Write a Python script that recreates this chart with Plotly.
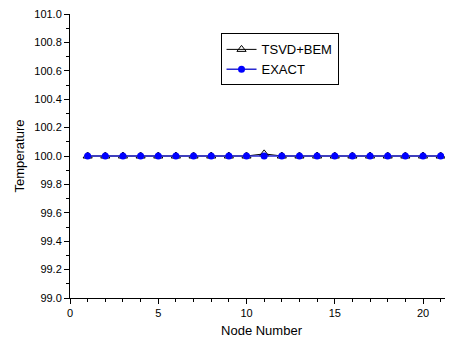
import plotly.graph_objects as go

nodes = list(range(1, 22))
tsvd_bem = [100.0]*10 + [100.015] + [100.0]*10
exact = [100.0]*21

fig = go.Figure()
fig.add_trace(go.Scatter(x=nodes, y=tsvd_bem, name="TSVD+BEM", mode="lines+markers",
                         line=dict(color="black", width=1),
                         marker=dict(symbol="triangle-up-open", size=8, color="black", line=dict(width=1))))
fig.add_trace(go.Scatter(x=nodes, y=exact, name="EXACT", mode="lines+markers",
                         line=dict(color="#2a2ad0", width=1.5),
                         marker=dict(symbol="circle", size=7, color="#0000ff")))

fig.update_layout(
    width=445, height=337,
    margin=dict(l=62, r=0, t=4, b=47),
    paper_bgcolor="white", plot_bgcolor="white",
    font=dict(family="Liberation Sans, Arial, sans-serif", size=11, color="black"),
    legend=dict(x=0.393, y=0.84, xanchor="left", yanchor="middle",
                bordercolor="black", borderwidth=1, bgcolor="white",
                font=dict(size=13), tracegroupgap=0, itemwidth=30),
    xaxis=dict(range=[0, 21.7], showline=True, linecolor="black", linewidth=1,
               ticks="outside", ticklen=5, tickcolor="black", dtick=5, tick0=0,
               ticklabeloverflow="allow",
               minor=dict(dtick=1, ticks="outside", ticklen=3, tickcolor="black"),
               showgrid=False, zeroline=False,
               title=dict(text="Node Number", font=dict(size=13), standoff=7)),
    yaxis=dict(range=[99.0, 101.0], showline=True, linecolor="black", linewidth=1,
               ticks="outside", ticklen=5, tickcolor="black", dtick=0.2, tick0=99.0,
               tickformat=".1f", ticklabeloverflow="allow",
               minor=dict(dtick=0.1, ticks="outside", ticklen=3, tickcolor="black"),
               showgrid=False, zeroline=False,
               title=dict(text="Temperature", font=dict(size=13), standoff=6)),
)

fig.write_html("out.html")
